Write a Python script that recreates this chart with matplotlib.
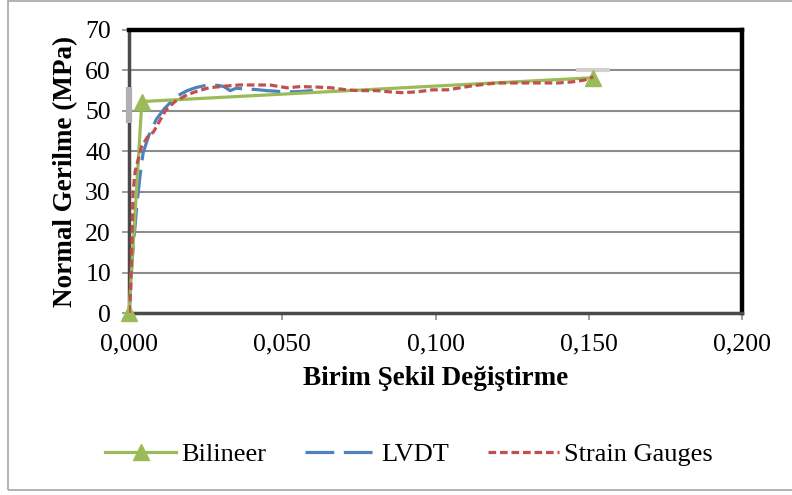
import matplotlib.pyplot as plt
from matplotlib.patches import Rectangle
from matplotlib.ticker import FuncFormatter

# Bilineer model
bil_x = [0.0, 0.0042, 0.1515]
bil_y = [0.0, 52.3, 58.2]

# LVDT measurements
lvdt_x = [0.0, 0.0005, 0.001, 0.0018, 0.0026, 0.0036, 0.0046, 0.0065, 0.009, 0.0115,
          0.0134, 0.016, 0.019, 0.022, 0.0245, 0.0264, 0.029, 0.031, 0.033, 0.035,
          0.038, 0.041, 0.045, 0.049, 0.0525, 0.056, 0.060]
lvdt_y = [0.0, 6, 13, 20, 27, 34, 39.6, 44, 48, 50.5,
          52, 53.8, 55, 55.8, 56.2, 56.4, 56.3, 56.0, 55.0, 55.6,
          55.4, 55.3, 55.0, 54.8, 54.7, 54.8, 55.0]

# Strain gauge measurements
sg_x = [0.0, 0.0005, 0.001, 0.0013, 0.002, 0.004, 0.006, 0.008, 0.010, 0.012, 0.015,
        0.019, 0.022, 0.026, 0.031, 0.036, 0.042, 0.046, 0.0515, 0.056, 0.061,
        0.066, 0.071, 0.075, 0.081, 0.085, 0.089, 0.094, 0.099, 0.104, 0.112,
        0.120, 0.128, 0.135, 0.140, 0.145, 0.1485, 0.1515]
sg_y = [0.0, 5, 18, 29.7, 35, 41, 43.5, 44.8, 47.5, 50.2, 52.3,
        54, 54.8, 55.7, 56.1, 56.4, 56.4, 56.4, 55.7, 56.0, 55.9,
        55.7, 55.2, 55.0, 55.0, 54.7, 54.5, 54.7, 55.2, 55.2, 56.2,
        56.9, 56.9, 56.9, 56.9, 57.2, 57.6, 58.4]

# grey bars drawn by the original sheet at the end points
bar1_x = [0.0, 0.0]
bar1_y = [47.0, 56.0]
bar2_x = [0.146, 0.157]
bar2_y = [60.0, 60.0]

plt.rcParams['font.family'] = ['Liberation Serif', 'DejaVu Serif']

fig = plt.figure(figsize=(7.92, 4.95), dpi=100)
fig.patches.append(Rectangle((8 / 792, 5 / 495), 1.0, 1 - 6 / 495, transform=fig.transFigure,
                             fill=False, edgecolor='#a6a6a6', linewidth=1.2))

ax = fig.add_axes([129 / 792, 1 - 313 / 495, (742 - 129) / 792, (313 - 30) / 495])

ax.plot(bar1_x, bar1_y, color='#b0b0b0', linewidth=4.5, solid_capstyle='butt', zorder=6,
        clip_on=False)
ax.plot(bar2_x, bar2_y, color='#d0d0d0', linewidth=3.0, solid_capstyle='butt', zorder=2)

ax.plot(bil_x, bil_y, color='#9bbb59', linewidth=2.3, marker='^', markersize=11,
        label='Bilineer', zorder=4, clip_on=False)
ax.plot(lvdt_x, lvdt_y, color='#4f81bd', linewidth=2.3, dashes=(9, 3),
        label='LVDT', zorder=3)
ax.plot(sg_x, sg_y, color='#c0504d', linewidth=2.3, dashes=(2.4, 1.2),
        label='Strain Gauges', zorder=5)

ax.set_xlim(0, 0.2)
ax.set_ylim(0, 70)
ax.set_xticks([0, 0.05, 0.1, 0.15, 0.2])
ax.set_yticks(range(0, 71, 10))
ax.xaxis.set_major_formatter(FuncFormatter(lambda v, p: f'{v:.3f}'.replace('.', ',')))
ax.grid(axis='y', color='#8c8c8c', linewidth=1.5)
ax.set_axisbelow(True)

ax.tick_params(labelsize=18.5, direction='out', length=5, width=1.2, color='#8c8c8c')
ax.tick_params(axis='y', pad=8)
ax.tick_params(axis='x', pad=10)

for s in ['top', 'right']:
    ax.spines[s].set_color('black')
    ax.spines[s].set_linewidth(3.2)
for s in ['left', 'bottom']:
    ax.spines[s].set_color('#4a4a4a')
    ax.spines[s].set_linewidth(2.5)

ax.set_xlabel('Birim Şekil Değiştirme', fontsize=19.5, fontweight='bold', labelpad=7)
ax.set_ylabel('Normal Gerilme (MPa)', fontsize=19.5, fontweight='bold', labelpad=5)

fig.legend(loc='center', bbox_to_anchor=(409 / 792, 1 - 454 / 495), ncol=3, frameon=False,
           fontsize=19, handlelength=2.7, handletextpad=0.2, columnspacing=1.45)

fig.savefig('out.png', dpi=100)
